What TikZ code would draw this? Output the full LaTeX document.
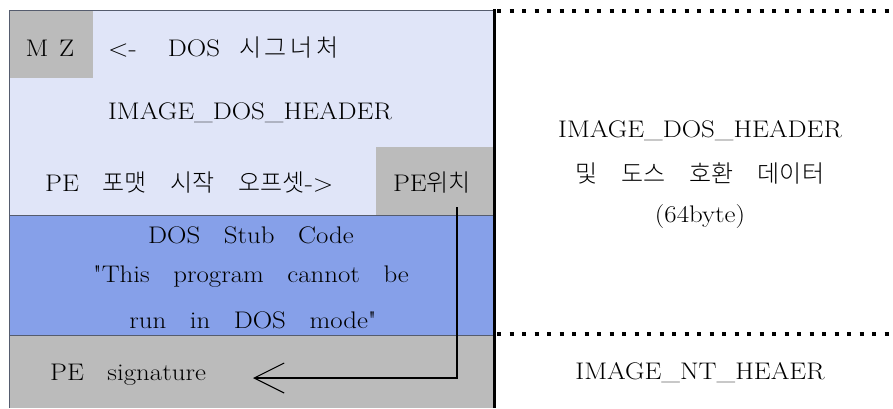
\documentclass[tikz,border=0pt]{standalone}
\usepackage{fontspec}
\setmainfont{Latin Modern Roman}[FakeStretch=1.12, WordSpace=2.9]
\newfontfamily\lmq{Latin Modern Roman}[FakeStretch=1.12]
\newfontfamily\kr{Noto Sans CJK KR Light}[WordSpace=4.5]
\newfontfamily\krw{Noto Sans CJK KR Light}[LetterSpace=15]
\usetikzlibrary{arrows.meta}
\definecolor{lav}{RGB}{224,229,248}
\definecolor{gry}{RGB}{187,187,187}
\definecolor{stubc}{RGB}{134,160,233}
\definecolor{sepc}{RGB}{85,92,110}
\newcommand{\sq}{{\lmq"}}
\begin{document}
\begin{tikzpicture}[x=1pt,y=-1pt,
  txt/.style={inner sep=0pt, font=\fontsize{24}{28}\selectfont},
  sepline/.style={draw=sepc, line width=1pt},
  dotline/.style={line width=4pt, dash pattern=on 4pt off 8.5pt},
  arr/.style={line width=1.2pt, -{Straight Barb[length=30pt,width=30pt,line width=1.1pt]}}
]
\useasboundingbox (0,0) rectangle (893,408);
\fill[white] (0,0) rectangle (893,408);
% regions
\fill[lav] (9,10) rectangle (494,215);
\fill[gry] (9,10) rectangle (93,78);
\fill[gry] (376,147) rectangle (494,215);
\fill[stubc] (9,215) rectangle (494,335);
\fill[gry] (9,335) rectangle (494,408);
\draw[sepline] (9,215) -- (494,215);
\draw[sepline] (9,335) -- (494,335);
\draw[sepline] (9,408) |- (494,10);
\draw[line width=3pt] (494,9) -- (494,408);
\draw[dotline] (497,11) -- (893,11);
\draw[dotline] (497,334) -- (893,334);
% texts
\node[txt] (mz) at (50,48) {M\hspace{0.45em}Z};
\node[txt, anchor=west] (dossig) at (108,48) {<-\hspace{1.3em}DOS\hspace{0.8em}{\krw 시그너처}};
\node[txt] (dosh) at (250,113) {IMAGE\_DOS\_HEADER};
\node[txt, anchor=west] (offset) at (45,183) {PE {\kr 포맷 시작 오프셋}->};
\node[txt] (pepos) at (432,183) {PE{\kr 위치}};
\node[txt] (stub1) at (251,235) {DOS Stub Code};
\node[txt] (stub2) at (251,277) {\sq This program cannot be};
\node[txt] (stub3) at (253,320) {run in DOS mode\sq};
\node[txt, anchor=west] (pesig) at (50,375) {PE signature};
\node[txt] (r1) at (700,131) {IMAGE\_DOS\_HEADER};
\node[txt] (r2) at (700,173) {\kr 및 도스 호환 데이터};
\node[txt] (r3) at (700,217) {(64byte)};
\node[txt] (r4) at (700,373) {IMAGE\_NT\_HEAER};
% arrow
\coordinate (pestart) at (457,207);
\coordinate (sigtip) at (253,378);
\draw[arr] (pestart) |- (sigtip);
\end{tikzpicture}
\end{document}
